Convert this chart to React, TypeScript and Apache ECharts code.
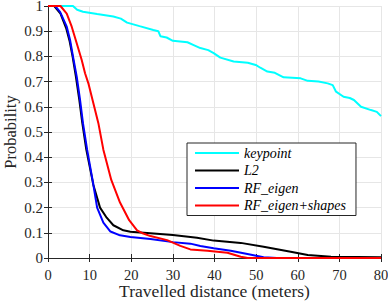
import React, { useEffect, useRef } from "react";
import * as echarts from "echarts";

const xTicks = [0, 10, 20, 30, 40, 50, 60, 70, 80];
const yTicks = [0, 0.1, 0.2, 0.3, 0.4, 0.5, 0.6, 0.7, 0.8, 0.9, 1];

const seriesNames = ["keypoint", "L2", "RF_eigen", "RF_eigen+shapes"];

const keypoint: [number, number][] = [
  [0, 1], [6, 1], [7, 0.985], [8.4, 0.977], [11.8, 0.968], [15.7, 0.958], [17.5, 0.95], [19, 0.934],
  [22, 0.92], [25.3, 0.905], [26.5, 0.9], [27, 0.88], [28.5, 0.875], [30, 0.862], [33.5, 0.856],
  [35, 0.845], [36.6, 0.833], [38.5, 0.825], [39.8, 0.813], [41.4, 0.795], [44.6, 0.78],
  [48, 0.775], [49.9, 0.766], [51, 0.755], [52.7, 0.74], [54.5, 0.735], [56.6, 0.717],
  [60.7, 0.713], [62.4, 0.703], [65, 0.7], [67.2, 0.693], [68.4, 0.686], [69.2, 0.66],
  [71, 0.64], [72.5, 0.635], [73.5, 0.627], [75.2, 0.6], [77.6, 0.587], [79, 0.58], [80, 0.563],
];

const l2: [number, number][] = [
  [0, 1], [1.5, 1], [3, 0.97], [4.4, 0.91], [5.2, 0.86], [5.9, 0.8], [6.7, 0.72], [7.5, 0.63],
  [8.2, 0.54], [9.2, 0.43], [10.9, 0.29], [12.5, 0.2], [14.1, 0.16], [15.7, 0.13], [18.1, 0.11],
  [19.8, 0.104], [23.8, 0.099], [30, 0.091], [35.8, 0.08], [39.8, 0.069], [46.3, 0.06],
  [51.8, 0.045], [58.3, 0.025], [62.4, 0.012], [68, 0.005], [80, 0.003],
];

const rfEigen: [number, number][] = [
  [0, 1], [1.7, 1], [2.9, 0.977], [4.5, 0.918], [5.3, 0.865], [6, 0.8], [6.9, 0.72], [7.7, 0.627],
  [8.4, 0.535], [9.4, 0.43], [10.8, 0.3], [11.8, 0.2], [13.3, 0.14], [15, 0.105], [17.3, 0.09],
  [19.8, 0.083], [24.6, 0.075], [30, 0.063], [34.2, 0.057], [36.6, 0.048], [39.8, 0.039],
  [43.9, 0.029], [47.9, 0.016], [51.8, 0.003], [55, 0], [80, 0],
];

const rfEigenShapes: [number, number][] = [
  [0, 1], [3, 1], [4.5, 0.97], [5.7, 0.918], [6.9, 0.852], [8.1, 0.786], [8.9, 0.733], [9.7, 0.693],
  [10.9, 0.614], [12.1, 0.535], [13.3, 0.43], [15.2, 0.31], [17.3, 0.22], [19.5, 0.15],
  [21.4, 0.11], [22.9, 0.097], [24.6, 0.087], [28.6, 0.071], [31.8, 0.048], [34.2, 0.034],
  [38.3, 0.029], [43.1, 0.021], [46.3, 0.005], [48, 0], [80, 0],
];

const colors = ["#00ffff", "#000000", "#0000ff", "#ff0000"];
const allData = [keypoint, l2, rfEigen, rfEigenShapes];

const FONT = "Liberation Serif";

export default function App() {
  const ref = useRef<HTMLDivElement>(null);
  useEffect(() => {
    if (!ref.current) return;
    const chart = echarts.init(ref.current, undefined, { renderer: "svg" });
    const axisLine = { show: true, lineStyle: { color: "#262626", width: 1 } };
    const tick = { show: true, inside: true, length: 4, lineStyle: { color: "#262626" } };
    chart.setOption({
      animation: false,
      backgroundColor: "#ffffff",
      textStyle: { fontFamily: FONT },
      grid: { left: 48, right: 7, top: 6, bottom: 44, containLabel: false, outerBoundsMode: "none" },
      legend: {
        data: seriesNames,
        orient: "vertical",
        left: 187,
        top: 143,
        icon: "rect",
        itemWidth: 44,
        itemHeight: 2,
        itemGap: 3.5,
        padding: [3, 10, 3, 8],
        backgroundColor: "#ffffff",
        borderColor: "#262626",
        borderWidth: 1,
        textStyle: { fontFamily: FONT, fontStyle: "italic", fontSize: 14, lineHeight: 14, color: "#000" },
      },
      xAxis: [
        {
          type: "value",
          min: 0,
          max: 80,
          interval: 10,
          name: "Travelled distance (meters)",
          nameLocation: "middle",
          nameGap: 24,
          nameMoveOverlap: false,
          nameTextStyle: { fontFamily: FONT, fontSize: 17.5, color: "#262626", verticalAlign: "top" },
          axisLine,
          axisTick: tick,
          axisLabel: { fontFamily: FONT, fontSize: 14.5, color: "#262626", margin: 9 },
          splitLine: { show: true, lineStyle: { color: "#e6e6e6", width: 1 } },
        },
        {
          type: "value",
          position: "top",
          min: 0,
          max: 80,
          interval: 10,
          axisLine,
          axisTick: tick,
          axisLabel: { show: false },
          splitLine: { show: false },
        },
      ],
      yAxis: [
        {
          type: "value",
          min: 0,
          max: 1,
          interval: 0.1,
          name: "Probability",
          nameLocation: "middle",
          nameGap: 30,
          nameMoveOverlap: false,
          nameTextStyle: { fontFamily: FONT, fontSize: 16.5, lineHeight: 16, color: "#262626" },
          axisLine,
          axisTick: tick,
          axisLabel: {
            fontFamily: FONT,
            fontSize: 15,
            color: "#262626",
            margin: 5,
            formatter: (v: number) => {
              const t = yTicks.find((k) => Math.abs(k - v) < 1e-6);
              return t === undefined ? "" : String(+t.toFixed(1));
            },
          },
          splitLine: { show: true, lineStyle: { color: "#e6e6e6", width: 1 } },
        },
        {
          type: "value",
          position: "right",
          min: 0,
          max: 1,
          interval: 0.1,
          axisLine,
          axisTick: tick,
          axisLabel: { show: false },
          splitLine: { show: false },
        },
      ],
      series: seriesNames.map((name, i) => ({
        name,
        type: "line",
        xAxisIndex: 0,
        yAxisIndex: 0,
        data: allData[i],
        symbol: "none",
        showSymbol: false,
        smooth: false,
        clip: true,
        lineStyle: { color: colors[i], width: 2 },
        itemStyle: { color: colors[i] },
        z: 2 + i,
      })),
    });
    return () => chart.dispose();
  }, []);
  return <div ref={ref} style={{ width: 388, height: 302, position: "absolute", left: 0, top: 0 }} />;
}

void xTicks;
